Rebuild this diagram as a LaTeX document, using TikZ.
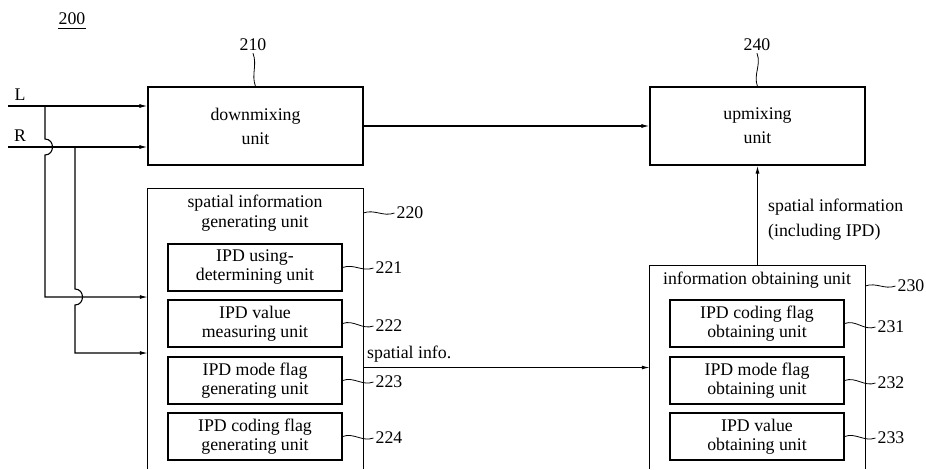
\documentclass[tikz,border=0pt]{standalone}
\usepackage{fontspec}
\setmainfont{Liberation Serif}
\usetikzlibrary{arrows.meta,calc}

\begin{document}
\begin{tikzpicture}[x=1pt,y=-1pt]
\tikzstyle{every node}+=[inner sep=0pt,font=\fontsize{17.8}{20}\selectfont]
\tikzstyle{unitbox}=[draw=black,line width=1.1pt,align=center,minimum width=215pt,minimum height=78pt,font=\fontsize{17.8}{24}\selectfont]
\tikzstyle{subbox}=[draw=black,line width=1.1pt,align=center,minimum width=174pt,minimum height=47pt,font=\fontsize{17.8}{19}\selectfont]
\tikzstyle{frame}=[minimum width=215pt]
\tikzstyle{refno}=[inner sep=2pt]
\tikzstyle{sig}=[black,line width=1.1pt,-{Latex[length=8pt,width=4pt]}]
\tikzstyle{lead}=[black,line width=0.8pt]
\useasboundingbox (0,0) rectangle (926,469);
% figure number
\node (fig) at (72,19) {200};
\draw [lead] ([yshift=-3pt]fig.south west) -- ([yshift=-3pt]fig.south east);
% mixing units
\node [unitbox] (dmx) at (255.5,126) {downmixing\\unit};
\node [unitbox] (upm) at (757.5,126) {upmixing\\unit};
\node [refno] (n210) at (253,45) {210};
\node [refno] (n240) at (757,45) {240};
\draw [lead] (n210.south) to[out=-70,in=110] (dmx.north);
\draw [lead] (n240.south) to[out=-70,in=110] (upm.north);
% spatial information generating unit
\node [frame,minimum height=280pt] (gen) at (255.5,329) {};
\draw [black,line width=1.1pt] (gen.south west) -- (gen.north west) -- (gen.north east) -- (gen.south east);
\node [align=center] (gentitle) at (255,213) {spatial information\\generating unit};
\node [refno] (n220) at (410,213) {220};
\draw [lead] (n220 -| gen.east) to[out=20,in=200] (n220.west);
\node [subbox] (using) at (255,267.5) {IPD using-\\determining unit};
\node [subbox] (meas) at (255,323.5) {IPD value\\measuring unit};
\node [subbox] (gmode) at (255,380.5) {IPD mode flag\\generating unit};
\node [subbox] (gcode) at (255,436.5) {IPD coding flag\\generating unit};
\node [refno] (n221) at (389,268) {221};
\node [refno] (n222) at (389,326) {222};
\node [refno] (n223) at (389,382) {223};
\node [refno] (n224) at (389,438) {224};
\draw [lead] (using.east) to[out=20,in=200] (n221.west);
\draw [lead] (meas.east) to[out=20,in=200] (n222.west);
\draw [lead] (gmode.east) to[out=20,in=200] (n223.west);
\draw [lead] (gcode.east) to[out=20,in=200] (n224.west);
% information obtaining unit
\node [frame,minimum height=203pt] (obt) at (757.5,367.5) {};
\draw [black,line width=1.1pt] (obt.south west) -- (obt.north west) -- (obt.north east) -- (obt.south east);
\node (obttitle) at (757,280) {information obtaining unit};
\node [refno] (n230) at (911,286) {230};
\draw [lead] (n230 -| obt.east) to[out=20,in=200] (n230.west);
\node [subbox] (ocode) at (757,323.5) {IPD coding flag\\obtaining unit};
\node [subbox] (omode) at (757,380.5) {IPD mode flag\\obtaining unit};
\node [subbox] (oval) at (757,436.5) {IPD value\\obtaining unit};
\node [refno] (n231) at (891,327) {231};
\node [refno] (n232) at (891,383) {232};
\node [refno] (n233) at (891,438) {233};
\draw [lead] (ocode.east) to[out=20,in=200] (n231.west);
\draw [lead] (omode.east) to[out=20,in=200] (n232.west);
\draw [lead] (oval.east) to[out=20,in=200] (n233.west);
% input channels
\node (lsig) at (20,95) {L};
\node (rsig) at (20,136) {R};
\coordinate (lin) at (8,106);
\coordinate (rin) at (8,147);
\coordinate (ltap) at (45,106);
\coordinate (rtap) at (75,147);
\coordinate (lbend) at (45,297);
\coordinate (rbend) at (75,353);
\draw [sig] (lin) -- (lin -| dmx.west);
\draw [sig] (rin) -- (rin -| dmx.west);
\draw [sig] (ltap) -- ($(ltap|-rtap)+(0,-8)$) to[out=0,in=0,looseness=1.6] ($(ltap|-rtap)+(0,8)$) -- (lbend) -- (lbend -| gen.west);
\draw [sig] (rtap) -- ($(rtap|-lbend)+(0,-8)$) to[out=0,in=0,looseness=1.6] ($(rtap|-lbend)+(0,8)$) -- (rbend) -- (rbend -| gen.west);
% signal flow
\draw [sig] (dmx.east) -- (upm.west);
\draw [sig] (obt.west -| gen.east) -- (obt.west);
\node [anchor=base west] (sinfo) at (367,358) {spatial info.};
\draw [sig] (obt.north) -- (upm.south);
\node [anchor=west,align=left,font=\fontsize{17.8}{25}\selectfont] (sinc) at (768,219.5) {spatial information\\(including IPD)};
\end{tikzpicture}
\end{document}
